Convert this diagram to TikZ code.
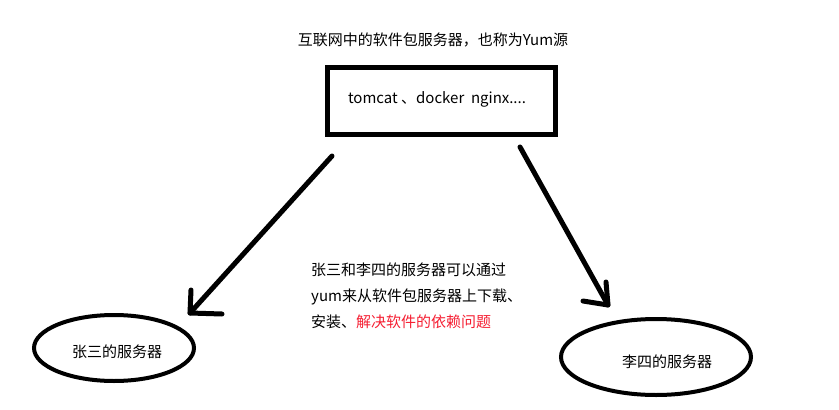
\documentclass[tikz,border=0pt]{standalone}
\usepackage{fontspec}
\setmainfont{Noto Sans CJK SC}
\usetikzlibrary{shapes.geometric}
\definecolor{hl}{RGB}{245,30,50}
\tikzset{
  lbl/.style={font=\fontsize{15}{26}\selectfont, inner sep=0pt},
  stroke/.style={line width=5pt, line cap=round, line join=round},
  srv/.style={draw, line width=4pt, ellipse, inner sep=0pt}
}
\begin{document}
\begin{tikzpicture}[x=1pt,y=-1pt]
\useasboundingbox (0,0) rectangle (839,410);
\node[lbl] (title) at (433,40) {互联网中的软件包服务器，也称为Yum源};
\node[draw, line width=5pt, minimum width=228pt, minimum height=67pt, inner sep=0pt] (repo) at (441,101) {};
\node[lbl] (pkgs) at (437,99) {tomcat 、docker\ \ nginx....};
\node[srv, minimum width=160pt, minimum height=66pt] (zs) at (114,348) {};
\node[lbl] at (117,352) {张三的服务器};
\node[srv, minimum width=190pt, minimum height=76pt] (ls) at (656,357) {};
\node[lbl] at (667,362) {李四的服务器};
\node[lbl, align=left, anchor=north west] (note) at (311,263) {张三和李四的服务器可以通过\\yum来从软件包服务器上下载、\\安装、\textcolor{hl}{解决软件的依赖问题}};
% left arrow
\coordinate (a1s) at (332,156);
\coordinate (a1t) at (190,313);
\coordinate (a1u) at (191,290);
\coordinate (a1r) at (222,314);
\draw[stroke] (a1s) -- (a1t);
\draw[stroke] (a1u) -- (a1t) -- (a1r);
% right arrow
\coordinate (a2s) at (520,147);
\coordinate (a2t) at (608,305);
\coordinate (a2u) at (606,282);
\coordinate (a2l) at (583,301);
\draw[stroke] (a2s) -- (a2t);
\draw[stroke] (a2u) -- (a2t) -- (a2l);
\end{tikzpicture}
\end{document}
